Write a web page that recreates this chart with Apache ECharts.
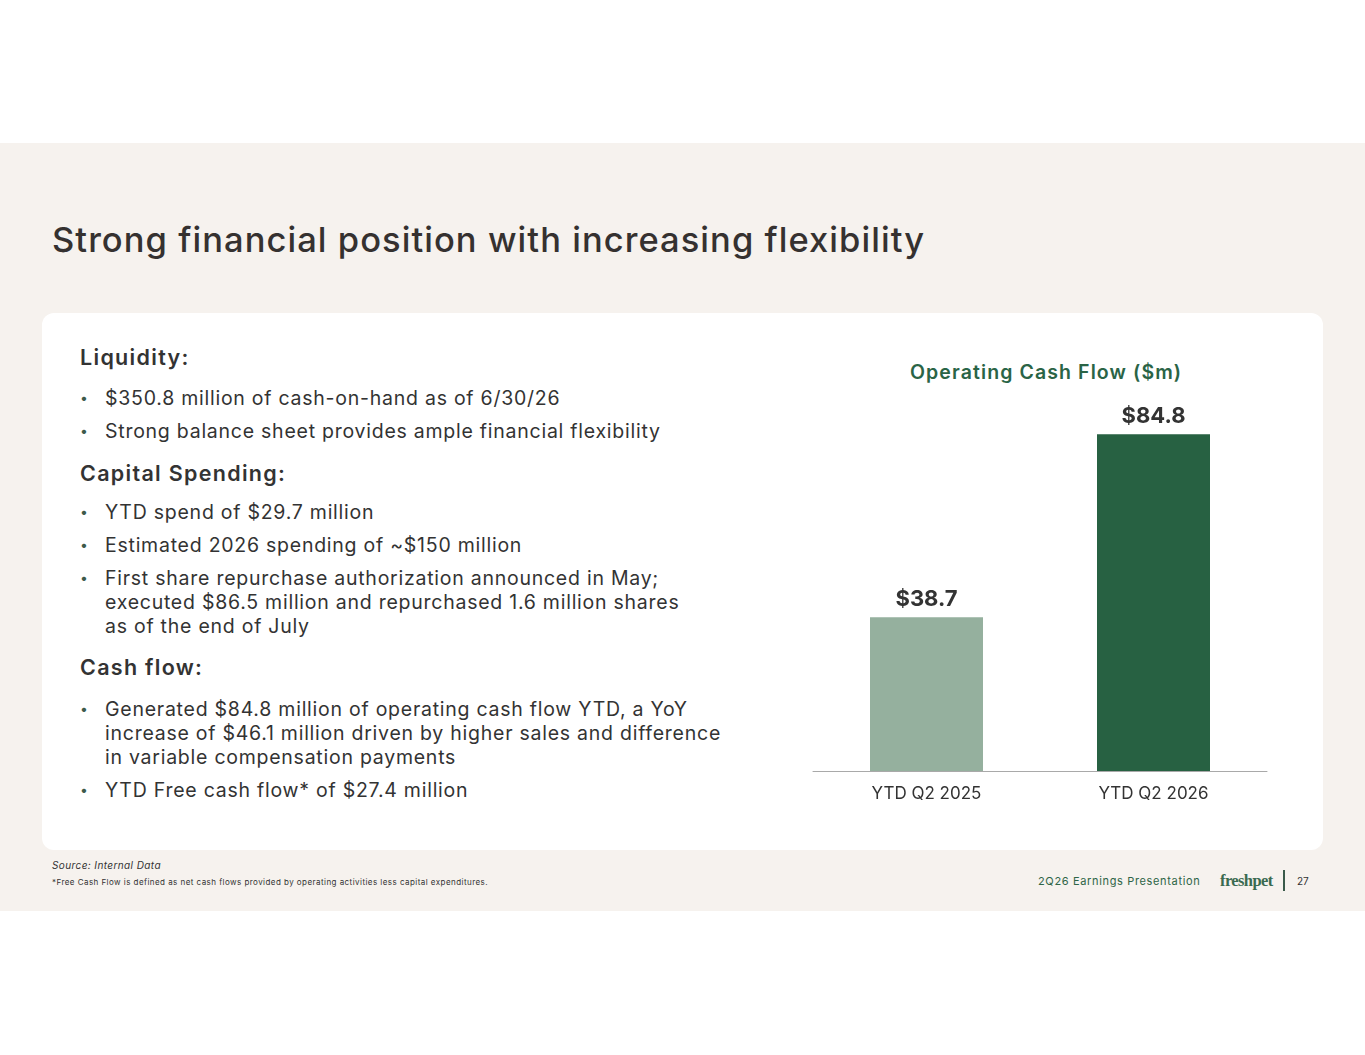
<!DOCTYPE html>
<html lang="en">
<head>
    <meta charset="utf-8">
    <title>Strong financial position with increasing flexibility</title>
    <script src="https://cdn.jsdelivr.net/npm/echarts@6/dist/echarts.min.js"></script>
    <style>
        body { margin: 0; width: 1365px; height: 1055px; background: #fff; position: relative; font-family: Inter, "Noto Sans", sans-serif; color: #333; overflow: hidden; }
        .slide { position: absolute; left: 0; top: 143px; width: 1365px; height: 768px; background: #f6f2ee; }
        .card { position: absolute; left: 42px; top: 313px; width: 1281px; height: 537px; background: #fff; border-radius: 12px; }
        .t { position: absolute; white-space: nowrap; }
        h1 { position: absolute; left: 52px; top: 218px; margin: 0; font-size: 34.5px; font-weight: 500; color: #353130; line-height: 44px; letter-spacing: 1.05px; }
        .head { left: 80px; font-size: 21.5px; font-weight: 600; line-height: 24px; color: #333; letter-spacing: 1.3px; }
        .li { left: 80px; font-size: 19.5px; line-height: 24px; color: #333; letter-spacing: 0.75px; }
        .li span.b { position: absolute; left: 0; color: #3d5a4a; font-size: 14px; }
        .li div { margin-left: 25px; }
        .ctitle { left: 910px; top: 360px; font-size: 19.5px; font-weight: 600; line-height: 24px; color: #2a6446; letter-spacing: 1.1px; }
    </style>
</head>
<body>
<div class="slide"></div>
<h1>Strong financial position with increasing flexibility</h1>
<div class="card"></div>

<div class="t head" style="top:345px">Liquidity:</div>
<div class="t li" style="top:386px"><span class="b">•</span><div>$350.8 million of cash-on-hand as of 6/30/26</div></div>
<div class="t li" style="top:419px"><span class="b">•</span><div>Strong balance sheet provides ample financial flexibility</div></div>

<div class="t head" style="top:461px">Capital Spending:</div>
<div class="t li" style="top:500px"><span class="b">•</span><div>YTD spend of $29.7 million</div></div>
<div class="t li" style="top:533px"><span class="b">•</span><div>Estimated 2026 spending of ~$150 million</div></div>
<div class="t li" style="top:566px"><span class="b">•</span><div>First share repurchase authorization announced in May;<br>executed $86.5 million and repurchased 1.6 million shares<br>as of the end of July</div></div>

<div class="t head" style="top:655px">Cash flow:</div>
<div class="t li" style="top:697px"><span class="b">•</span><div>Generated $84.8 million of operating cash flow YTD, a YoY<br>increase of $46.1 million driven by higher sales and difference<br>in variable compensation payments</div></div>
<div class="t li" style="top:778px"><span class="b">•</span><div>YTD Free cash flow* of $27.4 million</div></div>

<div class="t ctitle">Operating Cash Flow ($m)</div>

<div class="t" style="left:52px; top:859px; font-size:10px; font-style:italic; color:#333; letter-spacing:0.4px;">Source: Internal Data</div>
<div class="t" style="left:52px; top:877px; font-size:8px; color:#333; letter-spacing:0.45px;">*Free Cash Flow is defined as net cash flows provided by operating activities less capital expenditures.</div>
<div class="t" style="left:1038px; top:874px; font-size:11px; color:#2e6547; letter-spacing:0.65px;">2Q26 Earnings Presentation</div>
<div class="t" style="left:1220px; top:871px; font-size:16.5px; font-weight:bold; font-family:'Liberation Serif', serif; color:#3a6a50; letter-spacing:-0.6px;">freshpet</div>
<div style="position:absolute; left:1283px; top:870px; width:2px; height:21px; background:#3a5a4a;"></div>
<div class="t" style="left:1297px; top:875px; font-size:10px; color:#333;">27</div>

<div id="main" style="position:absolute; left:785px; top:340px; width:519px; height:480px;"></div>

<script type="text/javascript">
    var categories = ['YTD Q2 2025', 'YTD Q2 2026'];
    var cashFlow = [38.7, 84.8];
    var barColors = ['#95b09e', '#276142'];

    var myChart = echarts.init(document.getElementById('main'));

    var option = {
        grid: { left: 28, top: 34, width: 454, height: 397 },
        xAxis: {
            type: 'category',
            data: categories,
            axisLine: { lineStyle: { color: '#a9a9a9', width: 1 } },
            axisTick: { show: false },
            axisLabel: { color: '#333', fontSize: 17, fontFamily: 'Inter', margin: 14 }
        },
        yAxis: {
            type: 'value',
            min: 0,
            max: 100,
            show: false
        },
        series: [{
            type: 'bar',
            data: cashFlow,
            barWidth: 113,
            itemStyle: {
                color: function (params) {
                    return barColors[params.dataIndex];
                }
            },
            label: {
                show: true,
                position: 'top',
                distance: 7,
                formatter: function (p) { return '$' + p.value.toFixed(1); },
                color: '#333',
                fontSize: 22,
                fontWeight: 'bold',
                fontFamily: 'Inter'
            }
        }]
    };

    option && myChart.setOption(option);
</script>
</body>
</html>
